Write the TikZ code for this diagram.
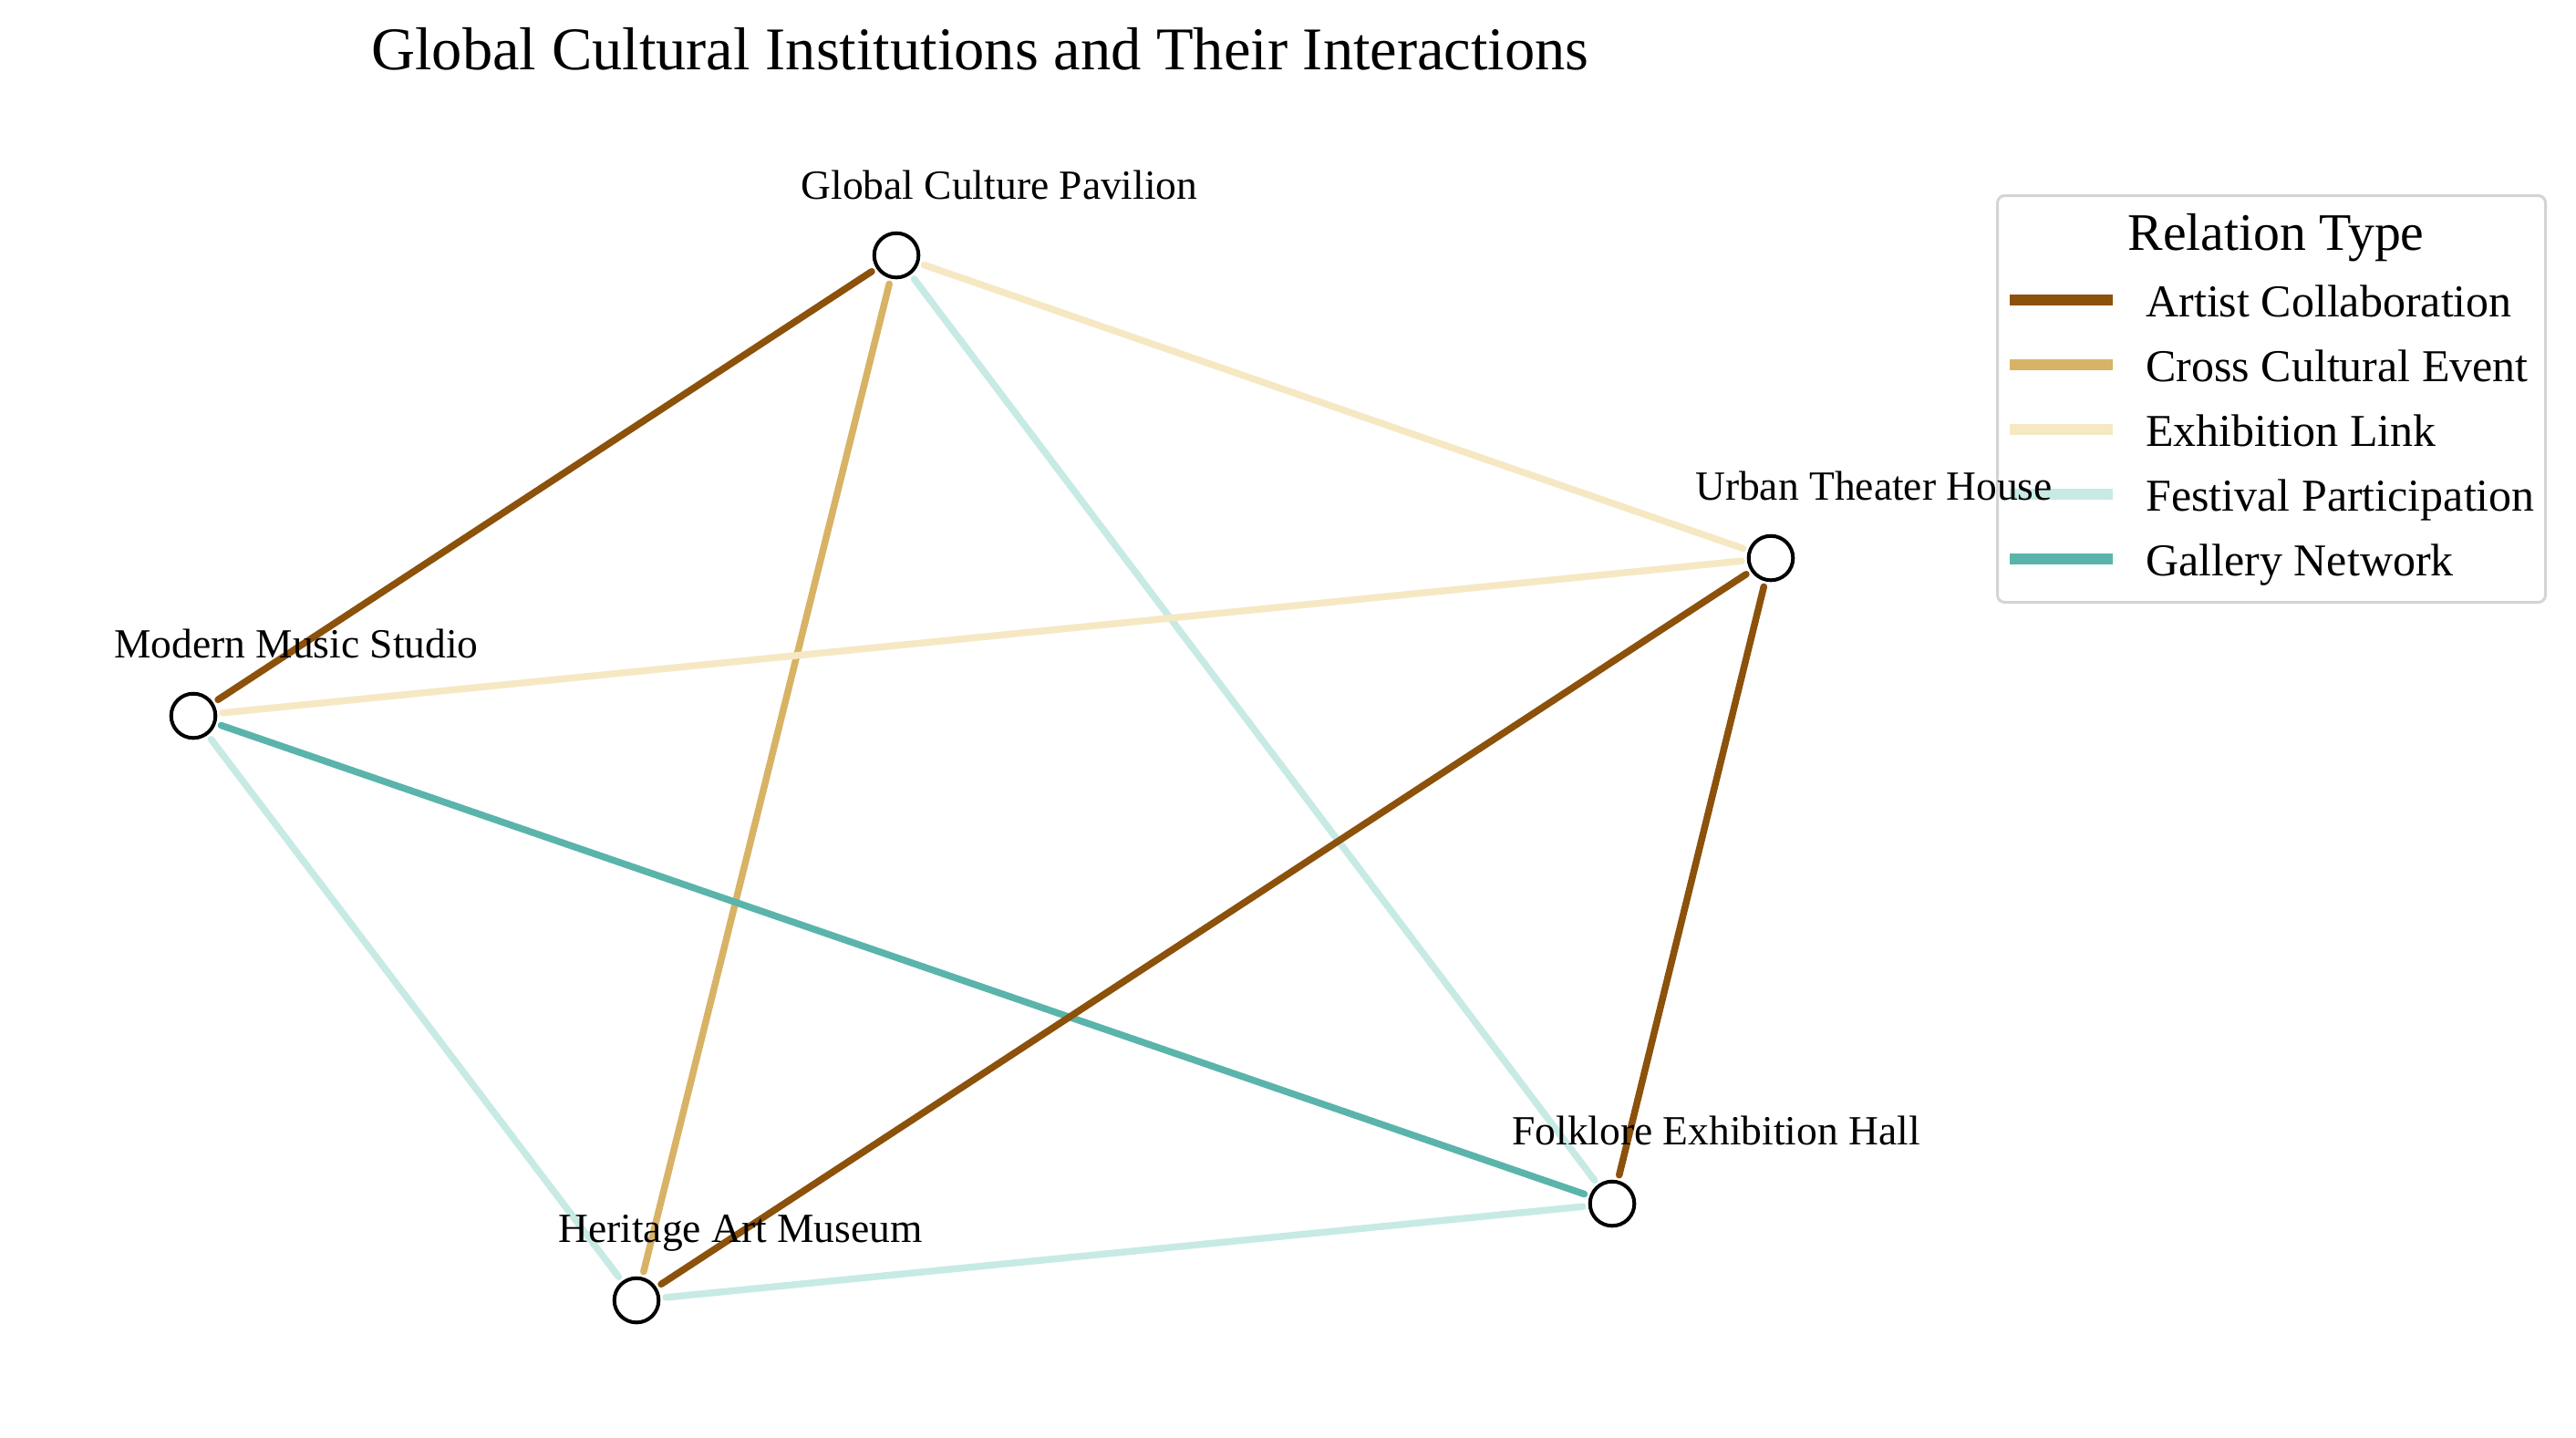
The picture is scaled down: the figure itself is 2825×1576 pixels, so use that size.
\documentclass[tikz,border=0pt]{standalone}
\usepackage{fontspec}
\setmainfont{Liberation Serif}
\definecolor{artist}{HTML}{8C510A}
\definecolor{crossc}{HTML}{D8B365}
\definecolor{exhib}{HTML}{F6E8C3}
\definecolor{festiv}{HTML}{C7EAE5}
\definecolor{galler}{HTML}{5AB4AC}
\definecolor{legborder}{HTML}{D4D4D4}
\tikzset{
  inst/.style={circle, draw=black, line width=2pt, fill=white, minimum size=24.3pt, inner sep=0pt},
  instlabel/.style={anchor=base, inner sep=0pt, font=\fontsize{22.75}{27}\selectfont},
  edge/.style={line width=3.75pt, line cap=round, shorten <=3pt, shorten >=3pt},
  legline/.style={line width=6pt},
  legtext/.style={anchor=base west, inner sep=0pt, font=\fontsize{25}{30}\selectfont},
}
\begin{document}
\begin{tikzpicture}[x=0.5pt, y=-0.5pt]
\useasboundingbox (0,0) rectangle (2825,1576);
\fill[white] (0,0) rectangle (2825,1576);

% title
\node[anchor=base, inner sep=0pt, font=\fontsize{33.25}{40}\selectfont] (title) at (1075,76) {Global Cultural Institutions and Their Interactions};

% nodes
\node[inst] (gcp) at (983,280) {};
\node[inst] (mms) at (212,785) {};
\node[inst] (ham) at (698,1426) {};
\node[inst] (feh) at (1768,1320) {};
\node[inst] (uth) at (1942,612) {};

% edges
\draw[edge, crossc] (gcp) -- (ham);
\draw[edge, galler] (mms) -- (feh);
\draw[edge, festiv] (gcp) -- (feh);
\draw[edge, festiv] (mms) -- (ham);
\draw[edge, festiv] (ham) -- (feh);
\draw[edge, artist] (gcp) -- (mms);
\draw[edge, artist] (uth) -- (ham);
\draw[edge, artist] (uth) -- (feh);
\draw[edge, exhib] (gcp) -- (uth);
\draw[edge, exhib] (uth) -- (mms);

% legend
\draw[legborder, line width=1.5pt, fill=white, rounded corners=4pt] (2190.5,214.5) rectangle (2791.5,660.5);
\node[anchor=base, inner sep=0pt, font=\fontsize{28.9}{34}\selectfont] (legtitle) at (2496,274) {Relation Type};
\coordinate (la1) at (2204,329); \coordinate (lb1) at (2317,329);
\coordinate (la2) at (2204,400); \coordinate (lb2) at (2317,400);
\coordinate (la3) at (2204,471); \coordinate (lb3) at (2317,471);
\coordinate (la4) at (2204,542); \coordinate (lb4) at (2317,542);
\coordinate (la5) at (2204,613); \coordinate (lb5) at (2317,613);
\draw[legline, artist] (la1) -- (lb1);
\draw[legline, crossc] (la2) -- (lb2);
\draw[legline, exhib] (la3) -- (lb3);
\draw[legline, festiv] (la4) -- (lb4);
\draw[legline, galler] (la5) -- (lb5);
\node[legtext] (t1) at (2353,347) {Artist Collaboration};
\node[legtext] (t2) at (2353,418) {Cross Cultural Event};
\node[legtext] (t3) at (2353,489) {Exhibition Link};
\node[legtext] (t4) at (2353,560) {Festival Participation};
\node[legtext] (t5) at (2353,631) {Gallery Network};

% labels (drawn over the legend, as in the reference)
\node[instlabel] (lgcp) at (1096,218) {Global Culture Pavilion};
\node[instlabel] (lmms) at (325,721) {Modern Music Studio};
\node[instlabel] (lham) at (812,1362) {Heritage Art Museum};
\node[instlabel] (lfeh) at (1882,1255) {Folklore Exhibition Hall};
\node[instlabel] (luth) at (2055,548) {Urban Theater House};
\end{tikzpicture}
\end{document}
